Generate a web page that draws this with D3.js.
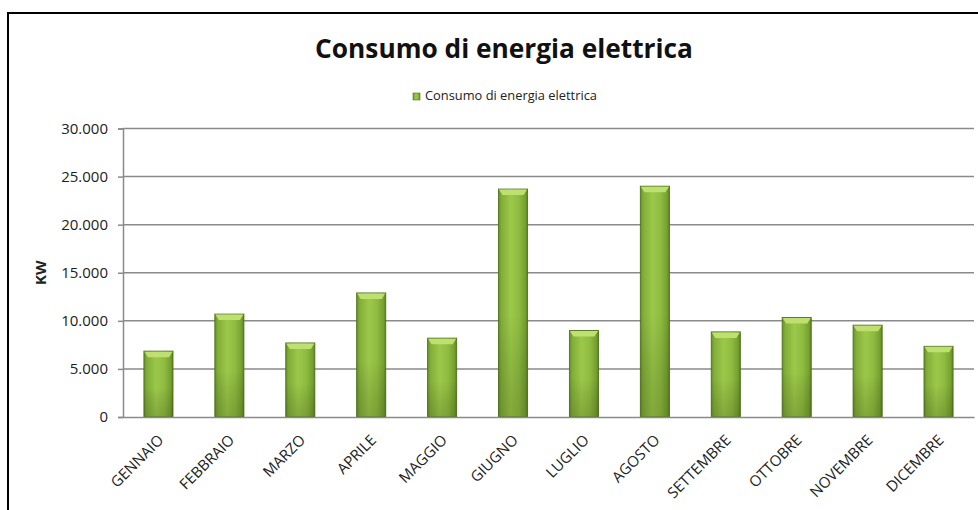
<!DOCTYPE html>
<html>
<head>
<meta charset="utf-8">
<script src="https://cdn.jsdelivr.net/npm/d3@7"></script>
<style>
  html, body { margin: 0; padding: 0; background: #ffffff; }
  svg { display: block; }
</style>
</head>
<body>
<svg id="chart" width="978" height="510"></svg>
<script>
const title = "Consumo di energia elettrica";
const seriesName = "Consumo di energia elettrica";
const yAxisTitle = "KW";
const months = ["GENNAIO","FEBBRAIO","MARZO","APRILE","MAGGIO","GIUGNO","LUGLIO","AGOSTO","SETTEMBRE","OTTOBRE","NOVEMBRE","DICEMBRE"];
const consumo = [6850, 10700, 7700, 12900, 8200, 23700, 9000, 24000, 8850, 10350, 9550, 7350];
const yTicks = [0, 5000, 10000, 15000, 20000, 25000, 30000];
const yTickLabels = ["0", "5.000", "10.000", "15.000", "20.000", "25.000", "30.000"];

const svg = d3.select("#chart");
const W = 978, H = 510;
const margin = {left: 123, right: 4, top: 128.5, bottom: 93};
const plotW = W - margin.left - margin.right;
const plotH = H - margin.top - margin.bottom;
const font = "'Open Sans', 'Noto Sans', sans-serif";

// outer border (left + top only visible)
svg.append("path")
  .attr("d", `M8,${H} L8,13 L${W},13`)
  .attr("fill", "none").attr("stroke", "#000").attr("stroke-width", 2);

const x = d3.scaleBand().domain(months).range([margin.left, margin.left + plotW]).paddingInner(0.59).paddingOuter(0.295);
const y = d3.scaleLinear().domain([0, 30000]).range([margin.top + plotH, margin.top]);

// defs: bar gradients
const defs = svg.append("defs");
const hg = defs.append("linearGradient").attr("id", "barH").attr("x1", "0").attr("x2", "1").attr("y1", "0").attr("y2", "0");
[["0%", "#66902a"], ["10%", "#82ad38"], ["42%", "#9cc84a"], ["70%", "#8fbc40"], ["92%", "#76a031"], ["100%", "#5b8020"]]
  .forEach(([o, c]) => hg.append("stop").attr("offset", o).attr("stop-color", c));
const vg = defs.append("linearGradient").attr("id", "barV").attr("x1", "0").attr("x2", "0").attr("y1", "0").attr("y2", "1");
[["0%", "#ffffff", 0.0], ["55%", "#000000", 0.0], ["100%", "#1e3300", 0.2]]
  .forEach(([o, c, a]) => vg.append("stop").attr("offset", o).attr("stop-color", c).attr("stop-opacity", a));

// gridlines
const g = svg.append("g");
g.selectAll("line.grid").data(yTicks.filter(d => d > 0)).join("line")
  .attr("class", "grid")
  .attr("x1", margin.left).attr("x2", margin.left + plotW)
  .attr("y1", d => y(d)).attr("y2", d => y(d))
  .attr("stroke", "#8a8a8a").attr("stroke-width", 1.5);

// y axis
const yAxis = d3.axisLeft(y).tickValues(yTicks).tickSize(5).tickPadding(10)
  .tickFormat((d, i) => yTickLabels[i]);
const ya = svg.append("g").attr("transform", `translate(${margin.left},0)`).call(yAxis);
ya.select(".domain").attr("stroke", "#8a8a8a").attr("stroke-width", 1.5);
ya.selectAll(".tick line").attr("stroke", "#8a8a8a").attr("stroke-width", 1.5);
ya.selectAll(".tick text").attr("font-family", font).attr("font-size", "15px").attr("fill", "#222");

// bars
const bars = svg.append("g");
bars.selectAll("rect.bar").data(months).join("rect")
  .attr("class", "bar")
  .attr("x", d => x(d)).attr("width", x.bandwidth())
  .attr("y", (d, i) => y(consumo[i])).attr("height", (d, i) => y(0) - y(consumo[i]))
  .attr("fill", "url(#barH)").attr("stroke", "#4f731a").attr("stroke-width", 0.9);
bars.selectAll("rect.shade").data(months).join("rect")
  .attr("class", "shade")
  .attr("x", d => x(d)).attr("width", x.bandwidth())
  .attr("y", (d, i) => y(consumo[i])).attr("height", (d, i) => y(0) - y(consumo[i]))
  .attr("fill", "url(#barV)");
// top bevel
bars.selectAll("path.bevel").data(months).join("path")
  .attr("class", "bevel")
  .attr("d", (d, i) => {
    const x0 = x(d), x1 = x(d) + x.bandwidth(), t = y(consumo[i]);
    return `M${x0 + 0.5},${t + 0.5} L${x1 - 0.5},${t + 0.5} L${x1 - 4},${t + 6} L${x0 + 4},${t + 6} Z`;
  })
  .attr("fill", "#bde070");

// x axis
const xAxis = d3.axisBottom(x).tickSize(0).tickPadding(0);
const xa = svg.append("g").attr("transform", `translate(0,${y(0)})`).call(xAxis);
xa.select(".domain").attr("stroke", "#8a8a8a").attr("stroke-width", 1.5);
xa.selectAll(".tick text")
  .attr("font-family", font).attr("font-size", "15px").attr("fill", "#222")
  .attr("text-anchor", "end")
  .attr("dy", "0")
  .attr("transform", "translate(6,24) rotate(-45)")
  .attr("y", 0);

// y axis title
svg.append("text")
  .attr("transform", `translate(46,${(y(0) + y(30000)) / 2}) rotate(-90)`)
  .attr("text-anchor", "middle")
  .attr("font-family", font).attr("font-weight", "bold").attr("font-size", "15px").attr("fill", "#222")
  .text(yAxisTitle);

// title
const t = svg.append("text")
  .attr("x", 504).attr("y", 58)
  .attr("text-anchor", "middle")
  .attr("font-family", font).attr("font-weight", "bold").attr("font-size", "28px").attr("fill", "#111")
  .text(title);
const tw = t.node().getComputedTextLength();
t.attr("font-size", (28 * 378 / tw).toFixed(2) + "px");

// legend
const lg = svg.append("g");
lg.append("rect").attr("x", 413).attr("y", 93).attr("width", 7).attr("height", 7)
  .attr("fill", "url(#barH)").attr("stroke", "#4f731a").attr("stroke-width", 0.6);
const lt = lg.append("text").attr("x", 425).attr("y", 100)
  .attr("font-family", font).attr("font-size", "11px").attr("fill", "#222")
  .text(seriesName);
const lw = lt.node().getComputedTextLength();
lt.attr("font-size", (11 * 172 / lw).toFixed(2) + "px");
</script>
</body>
</html>
